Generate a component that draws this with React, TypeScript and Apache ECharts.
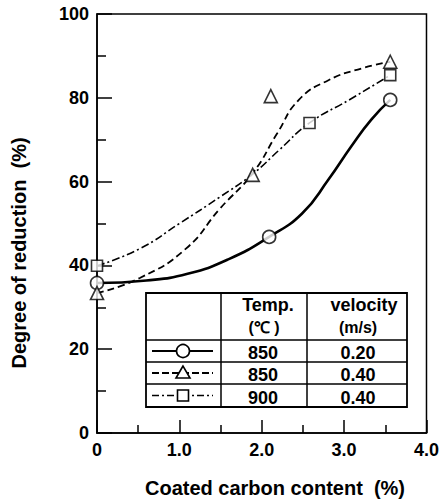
import React, { useEffect, useRef } from 'react';
import * as echarts from 'echarts';

// Measured markers
const circleX = [0, 2.09, 3.56];
const circleY = [35.8, 46.8, 79.5];
const triangleX = [0, 1.89, 2.11, 3.56];
const triangleY = [33.4, 61.6, 80.4, 88.6];
const squareX = [0, 2.58, 3.56];
const squareY = [39.9, 74, 85.4];

// Fitted curves
const solidCurveX = [0, 0.6, 1.1, 1.6, 2.09, 2.49, 2.81, 3.09, 3.33, 3.56];
const solidCurveY = [35.8, 36.4, 38, 41.5, 46.8, 52.4, 60.5, 68.5, 74.8, 79.5];
const dashedCurveX = [0, 0.52, 1.08, 1.49, 1.89, 2.19, 2.45, 2.81, 3.21, 3.56];
const dashedCurveY = [33.4, 37, 44, 53.5, 62, 71.6, 79.5, 84.2, 87, 88.6];
const dashDotCurveX = [0, 0.52, 1.0, 1.49, 1.89, 2.21, 2.58, 3.07, 3.56];
const dashDotCurveY = [39.9, 44, 50, 56.3, 61.8, 67.5, 74, 79.6, 85.4];

// Legend table
const tableHeaders = [['Temp.', '(℃ )'], ['velocity', '(m/s)']];
const tableTemps = ['850', '850', '900'];
const tableVelocities = ['0.20', '0.40', '0.40'];

const xAxisTitle = 'Coated carbon content  (%)';
const yAxisTitle = 'Degree of reduction  (%)';

const FONT = '"Liberation Sans", Arial, Helvetica, sans-serif';

const zip = (xs: number[], ys: number[]) => xs.map((x, i) => [x, ys[i]]);

function txt(text: string, x: number, y: number, size: number, extra: any = {}) {
  return {
    type: 'text',
    x,
    y,
    z: 100,
    ...extra,
    style: {
      text,
      font: `bold ${size}px ${FONT}`,
      fill: '#000',
      textAlign: 'center',
      textVerticalAlign: 'middle',
      align: 'center',
      verticalAlign: 'middle',
    },
  };
}

function ln(x1: number, y1: number, x2: number, y2: number, lw = 1.5, dash?: number[]) {
  return {
    type: 'line',
    z: 100,
    shape: { x1, y1, x2, y2 },
    style: { stroke: '#000', lineWidth: lw, lineDash: dash },
  };
}

export default function App() {
  const ref = useRef<HTMLDivElement>(null);
  useEffect(() => {
    if (!ref.current) return;
    const chart = echarts.init(ref.current, null, { renderer: 'svg' });

    const tL = 146, tR = 407, tT = 293, tB = 407;
    const rowLines = [340, 362, 384];
    const colLines = [221, 307];
    const rowCenters = [351, 373, 395.5];
    const symX = 183;
    const graphic: any[] = [
      {
        type: 'rect',
        z: 99,
        shape: { x: tL, y: tT, width: tR - tL, height: tB - tT },
        style: { fill: '#fff', stroke: '#000', lineWidth: 1.8 },
      },
      ...rowLines.map((y) => ln(tL, y, tR, y)),
      ...colLines.map((x) => ln(x, tT, x, tB)),
      txt(tableHeaders[0][0], 268, 305, 18),
      txt(tableHeaders[0][1], 264, 327, 16),
      txt(tableHeaders[1][0], 364, 305, 18),
      txt(tableHeaders[1][1], 358, 327, 16),
      ...tableTemps.map((t, i) => txt(t, 263, rowCenters[i] + 2, 18)),
      ...tableVelocities.map((t, i) => txt(t, 358, rowCenters[i] + 2, 18)),
      // legend symbols
      ln(152, rowCenters[0], 213, rowCenters[0], 2.2),
      { type: 'circle', z: 101, shape: { cx: symX, cy: rowCenters[0], r: 6.5 }, style: { fill: '#fff', stroke: '#000', lineWidth: 1.6 } },
      ln(152, rowCenters[1], 213, rowCenters[1], 1.8, [7, 3]),
      {
        type: 'polygon', z: 101,
        shape: { points: [[symX, rowCenters[1] - 7], [symX - 7, rowCenters[1] + 5], [symX + 7, rowCenters[1] + 5]] },
        style: { fill: '#fff', stroke: '#000', lineWidth: 1.6 },
      },
      ln(152, rowCenters[2], 213, rowCenters[2], 1.5, [7, 3, 2, 3]),
      { type: 'rect', z: 101, shape: { x: symX - 5.5, y: rowCenters[2] - 5.5, width: 11, height: 11 }, style: { fill: '#fff', stroke: '#000', lineWidth: 1.6 } },
      // axis titles
      txt(xAxisTitle, 275, 488, 20),
      txt(yAxisTitle, 19, 253, 20, { rotation: Math.PI / 2 }),
    ];

    const markerStyle = { color: '#fff', borderColor: '#000', borderWidth: 1.6 };

    chart.setOption({
      animation: false,
      backgroundColor: '#fff',
      grid: {
        left: 97,
        top: 14,
        width: 333,
        height: 419,
        show: true,
        borderColor: '#000',
        borderWidth: 1.5,
        backgroundColor: 'transparent',
      },
      xAxis: {
        type: 'value',
        min: 0,
        max: 4,
        interval: 1,
        axisLine: { show: true, lineStyle: { color: '#000', width: 1.5 } },
        axisTick: { show: true, inside: true, length: 13, lineStyle: { color: '#000', width: 1.5 } },
        minorTick: { show: true, splitNumber: 2, length: 8, lineStyle: { color: '#000', width: 1.5 } },
        splitLine: { show: false },
        axisLabel: {
          margin: 8,
          color: '#000',
          fontWeight: 'bold',
          fontSize: 18,
          fontFamily: FONT,
          formatter: (v: number) => (v === 0 ? '0' : v.toFixed(1)),
        },
      },
      yAxis: {
        type: 'value',
        min: 0,
        max: 100,
        interval: 20,
        axisLine: { show: true, lineStyle: { color: '#000', width: 1.5 } },
        axisTick: { show: true, inside: true, length: 15, lineStyle: { color: '#000', width: 1.5 } },
        minorTick: { show: true, splitNumber: 2, length: 9, lineStyle: { color: '#000', width: 1.5 } },
        splitLine: { show: false },
        axisLabel: {
          margin: 8,
          color: '#000',
          fontWeight: 'bold',
          fontSize: 18,
          fontFamily: FONT,
        },
      },
      graphic,
      series: [
        {
          type: 'line',
          data: zip(solidCurveX, solidCurveY),
          smooth: 0.5,
          showSymbol: false,
          symbol: 'none',
          lineStyle: { color: '#000', width: 2.6, type: 'solid' },
          z: 2,
        },
        {
          type: 'line',
          data: zip(dashedCurveX, dashedCurveY),
          smooth: 0.5,
          showSymbol: false,
          symbol: 'none',
          lineStyle: { color: '#000', width: 1.8, type: [7, 4] },
          z: 2,
        },
        {
          type: 'line',
          data: zip(dashDotCurveX, dashDotCurveY),
          smooth: 0.5,
          showSymbol: false,
          symbol: 'none',
          lineStyle: { color: '#000', width: 1.6, type: [8, 3, 2, 3] },
          z: 2,
        },
        {
          type: 'scatter',
          data: zip(circleX, circleY),
          symbol: 'circle',
          symbolSize: 13,
          itemStyle: markerStyle,
          z: 5,
        },
        {
          type: 'scatter',
          data: zip(triangleX, triangleY),
          symbol: 'triangle',
          symbolSize: 13,
          itemStyle: markerStyle,
          z: 5,
        },
        {
          type: 'scatter',
          data: zip(squareX, squareY),
          symbol: 'rect',
          symbolSize: 11,
          itemStyle: markerStyle,
          z: 5,
        },
      ],
    });
    return () => chart.dispose();
  }, []);

  return (
    <div
      ref={ref}
      style={{ position: 'fixed', left: 0, top: 0, width: 442, height: 499, background: '#fff' }}
    />
  );
}
